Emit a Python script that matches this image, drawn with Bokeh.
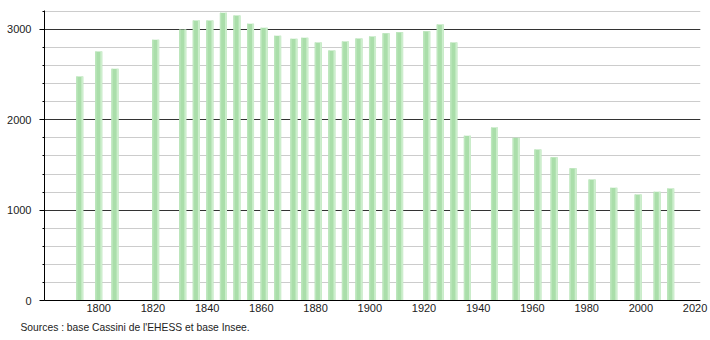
from bokeh.plotting import figure
from bokeh.models import ColumnDataSource, SingleIntervalTicker, Title, FixedTicker
from bokeh.transform import dodge
from bokeh.embed import file_html
from bokeh.resources import INLINE

years = [1793, 1800, 1806, 1821, 1831, 1836, 1841, 1846, 1851, 1856, 1861, 1866,
         1872, 1876, 1881, 1886, 1891, 1896, 1901, 1906, 1911, 1921, 1926, 1931,
         1936, 1946, 1954, 1962, 1968, 1975, 1982, 1990, 1999, 2006, 2011]
population = [2480, 2757, 2565, 2887, 3000, 3100, 3100, 3186, 3156, 3064, 3020, 2931,
              2898, 2909, 2857, 2768, 2868, 2900, 2923, 2957, 2968, 2979, 3056, 2857,
              1824, 1916, 1802, 1672, 1587, 1465, 1340, 1248, 1174, 1204, 1240]
x_ticks = [1800, 1820, 1840, 1860, 1880, 1900, 1920, 1940, 1960, 1980, 2000, 2020]
source_text = "Sources : base Cassini de l'EHESS et base Insee."

FONT = "Liberation Sans"

src = ColumnDataSource(dict(year=years, pop=population))

p = figure(width=710, height=340, output_backend="svg", toolbar_location=None,
           x_range=(1780, 2022), y_range=(0, 3210),
           min_border_left=44, min_border_right=10, min_border_top=10, min_border_bottom=40)
p.outline_line_color = None
p.background_fill_color = "white"

# bars with a light right edge (gradient look)
p.vbar(x="year", top="pop", width=2.6, bottom=0, source=src,
       fill_color="#aadeaa", line_color=None)
p.vbar(x=dodge("year", 0.95, range=p.x_range), top="pop", width=0.7, bottom=0, source=src,
       fill_color="#cdeecd", line_color=None)
p.vbar(x=dodge("year", -1.05, range=p.x_range), top="pop", width=0.5, bottom=0, source=src,
       fill_color="#bde7bd", line_color=None)

# y axis
p.yaxis.ticker = SingleIntervalTicker(interval=1000, num_minor_ticks=5)
p.yaxis.axis_line_color = "black"
p.yaxis.major_tick_out = 5
p.yaxis.major_tick_in = 0
p.yaxis.minor_tick_out = 2
p.yaxis.minor_tick_in = 0
p.yaxis.major_tick_line_color = "black"
p.yaxis.minor_tick_line_color = "black"
p.yaxis.major_label_standoff = 8
p.yaxis.major_label_text_font = FONT
p.yaxis.major_label_text_font_size = "11px"
p.yaxis.major_label_text_color = "#222222"

p.ygrid.grid_line_color = "#333333"
p.ygrid.grid_line_width = 1
p.ygrid.minor_grid_line_color = "#cccccc"
p.ygrid.level = "underlay"
p.xgrid.grid_line_color = None

# x axis
p.xaxis.ticker = FixedTicker(ticks=x_ticks)
p.xaxis.axis_line_color = "black"
p.xaxis.major_tick_out = 0
p.xaxis.major_tick_in = 0
p.xaxis.minor_tick_out = 0
p.xaxis.minor_tick_in = 0
p.xaxis.major_label_standoff = 3
p.xaxis.major_label_text_font = FONT
p.xaxis.major_label_text_font_size = "11px"
p.xaxis.major_label_text_color = "#222222"

src_title = Title(text=source_text, align="left", offset=-24, standoff=11,
                  text_font=FONT, text_font_size="10.3px", text_color="#222222",
                  text_font_style="normal")
p.add_layout(src_title, "below")

open("out.html", "w").write(file_html(p, INLINE))
